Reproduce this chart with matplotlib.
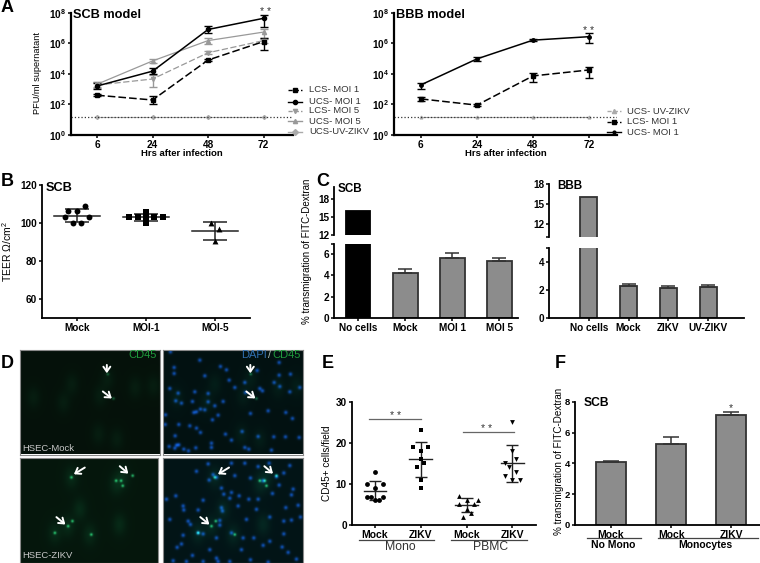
import matplotlib
matplotlib.use("Agg")
import matplotlib.pyplot as plt
import numpy as np

plt.rcParams['font.family'] = ['Liberation Sans', 'DejaVu Sans']
plt.rcParams['mathtext.fontset'] = 'custom'
plt.rcParams['mathtext.bf'] = 'Liberation Sans:bold'
plt.rcParams['mathtext.rm'] = 'Liberation Sans'

# panel A
hours = ['6', '24', '48', '72']
uv_level = [14, 14, 14, 14]
scb_lcs1 = [400, 195, 8e4, 1.3e6]
scb_lcs1_lo = [340, 110, 7e4, 3.6e5]
scb_lcs1_hi = [470, 350, 9e4, 2.1e6]
scb_ucs1 = [1600, 1.5e4, 8e6, 4.3e7]
scb_ucs1_lo = [1000, 1e4, 4.4e6, 1.2e7]
scb_ucs1_hi = [2600, 2.6e4, 1.3e7, 6.9e7]
scb_lcs5 = [1860, 4600, 2.4e5, 1.5e6]
scb_lcs5_lo = [1200, 1450, 2e5, 1e6]
scb_lcs5_hi = [2800, 8300, 3e5, 2e6]
scb_ucs5 = [2100, 7e4, 1.5e6, 5.4e6]
scb_ucs5_lo = [1400, 5e4, 8.9e5, 2.1e6]
scb_ucs5_hi = [3000, 1e5, 2.1e6, 9e6]
bbb_ucs1 = [1900, 9.5e4, 1.6e6, 2.7e6]
bbb_ucs1_lo = [1100, 7e4, 1.4e6, 1e6]
bbb_ucs1_hi = [2600, 1.2e5, 1.8e6, 4.4e6]
bbb_lcs1 = [230, 90, 7300, 1.8e4]
bbb_lcs1_lo = [170, 75, 2750, 5e3]
bbb_lcs1_hi = [300, 110, 1.2e4, 3e4]

# panel B
teer_groups = ['Mock', 'MOI-1', 'MOI-5']
teer_mock_x = [0.116, -0.125, 0, -0.18, 0.18, -0.06, 0.06]
teer_mock = [109, 106.2, 106.2, 103, 103, 100, 100]
teer_moi1_x = [0, -0.24, -0.12, 0, 0.12, 0.24, 0]
teer_moi1 = [105.8, 103, 103, 103, 103, 103, 100]
teer_moi5_x = [-0.06, 0.06, 0]
teer_moi5 = [100, 97, 90.3]
teer_mean = [103.7, 103, 95.8]
teer_lo = [100.4, 101, 91]
teer_hi = [107.2, 105, 100.5]

# panel C
scb_groups = ['No cells', 'Mock', 'MOI 1', 'MOI 5']
scb_trans = [16, 4.2, 5.6, 5.4]
scb_trans_err = [0, 0.36, 0.52, 0.28]
bbb_groups = ['No cells', 'Mock', 'ZIKV', 'UV-ZIKV']
bbb_trans = [16, 2.3, 2.1, 2.2]
bbb_trans_err = [0, 0.15, 0.15, 0.15]

mock_nuclei = [(22,8),(33,55),(33,73),(110,33),(172,52),(190,62),(125,80),(198,93),(282,64),(348,40),(382,75),(348,78),
               (410,115),(380,128),(350,112),(333,100),(298,125),(290,118),(245,100),(215,115),(247,130),(20,118),(45,132),
               (95,128),(135,133),(38,155),(55,162),(88,157),(135,158),(155,170),(180,157),(112,180),(125,182),(100,188),
               (92,190),(7,197),(165,198),(148,212),(262,193),(315,185),(368,190),(388,208),(6,226),(47,226),(80,230),
               (100,237),(112,250),(36,260),(237,247),(187,255),(205,273),(285,262),(332,263),(367,263),(408,265),(18,292),
               (40,288),(47,287),(35,297),(62,300),(98,296),(145,282),(145,295),(76,305),(245,295),(257,300),(325,303)]
zikv_nuclei = [(135,20),(205,18),(245,18),(285,28),(318,18),(380,25),(100,42),(150,52),(138,68),(160,60),(362,47),(340,58),
               (300,70),(262,62),(215,55),(175,92),(205,105),(182,110),(328,108),(390,95),(348,83),(10,125),(38,115),(120,128),
               (200,122),(228,115),(257,125),(285,125),(320,178),(60,145),(62,157),(105,157),(175,150),(178,160),(225,145),
               (280,155),(405,143),(368,150),(20,185),(75,190),(82,200),(170,188),(170,202),(250,185),(362,190),(385,187),
               (412,178),(60,232),(120,228),(160,240),(205,225),(240,240),(272,240),(320,250),(362,228),(55,258),(42,268),
               (140,275),(235,275),(357,267),(375,283),(88,292),(30,308),(70,310),(120,310),(160,300),(165,310),(200,310),
               (262,305),(315,312),(400,303),(300,262),(385,112),(105,225)]
mock_haze = [(155,105),(40,145),(130,160),(240,140),(345,115),(262,90),(235,255),(400,110),(290,270)]
zikv_haze = [(155,60),(310,60),(180,155),(300,200),(210,230),(105,225),(145,205),(290,80)]
mock_bright = [(263,75),(280,148)]
zikv_bright = [(155,60),(340,55),(145,205),(158,190),(105,225),(215,230),(290,70),(305,70),(310,85)]
mock_arrows = [((262,45),(262,70)), ((250,125),(277,146))]
zikv_arrows = [((198,30),(165,50)), ((304,26),(330,48)), ((112,178),(139,200))]

# panel E
cell_groups = ['Mock', 'ZIKV', 'Mock', 'ZIKV']
mono_mock_x = [0, -0.17, 0.17, 0, -0.17, -0.08, 0.17, 0, 0.08]
mono_mock = [13, 10, 10, 8.9, 6.9, 6.9, 6.9, 6, 6]
mono_zikv_x = [0, -0.16, 0.16, 0, 0, -0.08, 0.08, 0, 0]
mono_zikv = [23, 19, 19, 18, 16, 14, 15, 11, 9]
pbmc_mock_x = [-0.17, 0, 0.25, -0.17, 0.17, 0, 0.09, -0.08]
pbmc_mock = [7, 6, 6, 5, 5, 3.8, 3, 2]
pbmc_zikv_x = [0, 0, 0.09, -0.17, -0.08, 0.09, -0.17, 0, 0.17]
pbmc_zikv = [25, 18, 16, 15, 14, 13, 12, 11, 11]
cell_mean = [8.35, 16, 4.9, 15]
cell_lo = [6, 11.8, 3.1, 10.5]
cell_hi = [10.7, 20.3, 6.5, 19.5]

# panel F
mono_groups = ['Mock', 'Mock', 'ZIKV']
mono_trans = [4.1, 5.27, 7.13]
mono_trans_err = [0.08, 0.43, 0.22]

GREY = '#999999'
BAR = '#8c8c8c'
EDGE = '#333333'

fig = plt.figure(figsize=(7.6, 5.63), dpi=100)


def px_axes(x0, y0, x1, y1, spine=1.3):
    # box given in image pixels, y0 is the top edge
    ax = fig.add_axes([x0 / 760, 1 - y1 / 563, (x1 - x0) / 760, (y1 - y0) / 563])
    ax.patch.set_alpha(0)
    ax.spines['top'].set_visible(False)
    ax.spines['right'].set_visible(False)
    ax.spines['left'].set_linewidth(spine)
    ax.spines['bottom'].set_linewidth(spine)
    ax.tick_params(width=1.1, length=2.5, labelsize=7.2, pad=1)
    return ax


def bold_ticks(ax):
    for t in ax.get_xticklabels() + ax.get_yticklabels():
        t.set_fontweight('bold')


def draw_virus(ax, x, y, lo, hi, color, ls, marker, ms, lw=1.1):
    y = np.array(y)
    ax.errorbar(x, y, yerr=[y - np.array(lo), np.array(hi) - y], color=color, ls=ls, lw=lw,
                marker=marker, ms=ms, capsize=3, elinewidth=1.0, capthick=1.0)


# panel A left
ax = px_axes(71, 12.7, 293, 135, 1.6)
x = np.arange(4)
draw_virus(ax, x, scb_lcs5, scb_lcs5_lo, scb_lcs5_hi, GREY, (0, (5, 2)), 'v', 3, 0.9)
draw_virus(ax, x, scb_ucs5, scb_ucs5_lo, scb_ucs5_hi, GREY, '-', '^', 3, 0.9)
draw_virus(ax, x, scb_lcs1, scb_lcs1_lo, scb_lcs1_hi, 'black', (0, (5, 2)), 's', 3.5)
draw_virus(ax, x, scb_ucs1, scb_ucs1_lo, scb_ucs1_hi, 'black', '-', 'o', 3)
ax.plot(x, uv_level, color='#aaaaaa', lw=0.8, marker='D', ms=2)
ax.axhline(uv_level[0], color='#333333', ls=':', lw=0.9)
ax.set_yscale('log')
ax.set_ylim(1, 1e8)
ax.set_xlim(-0.47, 3.53)
ax.set_xticks(x, hours)
ax.set_yticks([1, 1e2, 1e4, 1e6, 1e8], [r'$\mathbf{10^{%d}}$' % p for p in (0, 2, 4, 6, 8)])
ax.minorticks_off()
bold_ticks(ax)

# panel A right
ax = px_axes(394, 12.7, 617, 135, 1.6)
draw_virus(ax, x, bbb_lcs1, bbb_lcs1_lo, bbb_lcs1_hi, 'black', (0, (5, 2)), 's', 3.5)
draw_virus(ax, x, bbb_ucs1, bbb_ucs1_lo, bbb_ucs1_hi, 'black', '-', 'o', 2.5)
ax.plot(x, uv_level, color='#aaaaaa', lw=0.8, marker='^', ms=2)
ax.axhline(uv_level[0], color='#333333', ls=':', lw=0.9)
ax.set_yscale('log')
ax.set_ylim(1, 1e8)
ax.set_xlim(-0.48, 3.5)
ax.set_xticks(x, hours)
ax.set_yticks([1, 1e2, 1e4, 1e6, 1e8], [r'$\mathbf{10^{%d}}$' % p for p in (0, 2, 4, 6, 8)])
ax.minorticks_off()
bold_ticks(ax)

# panel B
ax = px_axes(42, 185, 250, 318)
for i, (dx, vals, m) in enumerate([(teer_mock_x, teer_mock, 'o'), (teer_moi1_x, teer_moi1, 's'), (teer_moi5_x, teer_moi5, '^')]):
    ax.scatter(np.array(dx) + i, vals, color='black', marker=m, s=18, lw=0, zorder=3)
    ax.plot([i - 0.33, i + 0.33], [teer_mean[i]] * 2, color='#222222', lw=1.1)
    ax.errorbar(i, teer_mean[i], yerr=[[teer_mean[i] - teer_lo[i]], [teer_hi[i] - teer_mean[i]]],
                color='#222222', capsize=8.5, lw=1.1, capthick=1.1)
ax.set_xlim(-0.507, 2.507)
ax.set_ylim(50, 120)
ax.set_xticks(range(3), teer_groups)
ax.set_yticks([60, 80, 100, 120])
bold_ticks(ax)


def broken_bars(x0, x1, y_low, y_break_low, y_break_up, y_top, lim_low, lim_up, xlim, width, vals, errs,
                names, first_color, low_ticks, up_ticks, low_labels, up_labels):
    lo = px_axes(x0, y_break_low, x1, y_low)
    up = px_axes(x0, y_top, x1, y_break_up)
    colors = [first_color] + [BAR] * (len(vals) - 1)
    pos = np.arange(len(vals))
    for a in (lo, up):
        a.bar(pos, vals, width=width, color=colors, edgecolor=[EDGE if c != 'black' else 'black' for c in colors], lw=1.3)
        a.set_xlim(*xlim)
    lo.errorbar(pos[1:], vals[1:], yerr=[np.zeros(len(vals) - 1), errs[1:]], ls='none', color=EDGE, capsize=5, lw=1.1, capthick=1.1)
    lo.set_ylim(*lim_low)
    up.set_ylim(*lim_up)
    lo.set_xticks(pos, names)
    lo.set_yticks(low_ticks, low_labels)
    up.set_yticks(up_ticks, up_labels)
    up.set_xticks([])
    up.spines['bottom'].set_visible(False)
    bold_ticks(lo)
    bold_ticks(up)


# panel C
broken_bars(334, 518, 317.7, 243.7, 235.3, 186.7, (0, 7), (12, 20), (-0.51, 3.4), 0.53, scb_trans, scb_trans_err,
            scb_groups, 'black', [0, 2, 4, 6, 7], [12, 15, 18], ['0', '2', '4', '6', ''], ['12', '15', '18'])
broken_bars(549, 744, 317.7, 248, 236.7, 184.3, (0, 5), (10, 18), (-1.0, 3.9), 0.42, bbb_trans, bbb_trans_err,
            bbb_groups, BAR, [0, 2, 4, 5], [10, 12, 15, 18], ['0', '2', '4', ''], ['', '12', '15', '18'])


def micrograph(x0, y0, x1, y1, bg, nuclei, haze, bright, arrows, haze_amp, bright_amp):
    ax = fig.add_axes([x0 / 760, 1 - y1 / 563, (x1 - x0) / 760, (y1 - y0) / 563])
    gx, gy = np.meshgrid(np.arange(420), np.arange(315))
    img = np.ones((315, 420, 3)) * np.array(bg)

    def add(spots, sx, sy, color):
        for px, py in spots:
            blob = np.exp(-((gx - px) ** 2 / (2 * sx ** 2) + (gy - py) ** 2 / (2 * sy ** 2)))
            for c in range(3):
                img[:, :, c] += blob * color[c]

    add(haze, 14, 22, (0.01 * haze_amp, 0.09 * haze_amp, 0.05 * haze_amp))
    add(bright, 3, 3, (0.15 * bright_amp, 0.7 * bright_amp, 0.4 * bright_amp))
    add(nuclei, 4, 4, (0.05, 0.24, 0.62))
    ax.imshow(np.clip(img, 0, 1), extent=(0, 420, 315, 0), aspect='auto', interpolation='bilinear')
    for start, end in arrows:
        ax.annotate('', xy=end, xytext=start,
                    arrowprops=dict(arrowstyle='->,head_width=0.25,head_length=0.35', color='white', lw=1.4, shrinkA=0, shrinkB=0))
    ax.set_xticks([])
    ax.set_yticks([])
    for s in ax.spines.values():
        s.set_color('#8a8a8a')
        s.set_linewidth(0.8)
    return ax


# panel D
micrograph(19.5, 350, 159.5, 454.5, (0.02, 0.07, 0.04), [], mock_haze, mock_bright, mock_arrows, 0.5, 0.4)
micrograph(163, 350, 303, 454.5, (0.01, 0.07, 0.07), mock_nuclei, mock_haze, mock_bright, mock_arrows, 0.5, 0.5)
micrograph(19.5, 457.5, 158, 563, (0.02, 0.09, 0.05), [], zikv_haze, zikv_bright, zikv_arrows, 0.8, 0.9)
micrograph(163, 457.5, 303, 563, (0.01, 0.08, 0.09), zikv_nuclei, zikv_haze, zikv_bright, zikv_arrows, 0.8, 0.9)

# panel E
ax = px_axes(351.7, 401.7, 535.7, 525)
ax.tick_params(axis='x', labelsize=7.5)
sets = [(mono_mock_x, mono_mock, 'o'), (mono_zikv_x, mono_zikv, 's'), (pbmc_mock_x, pbmc_mock, '^'), (pbmc_zikv_x, pbmc_zikv, 'v')]
for i, (dx, vals, m) in enumerate(sets):
    ax.scatter(np.array(dx) + i, vals, color='black', marker=m, s=12, lw=0, zorder=3)
    ax.plot([i - 0.25, i + 0.25], [cell_mean[i]] * 2, color='#222222', lw=1.0)
    ax.errorbar(i, cell_mean[i], yerr=[[cell_mean[i] - cell_lo[i]], [cell_hi[i] - cell_mean[i]]],
                color='#222222', capsize=4.5, lw=1.0, capthick=1.0)
ax.set_xlim(-0.51, 3.51)
ax.set_ylim(0, 30)
ax.set_xticks(range(4), cell_groups)
ax.set_yticks([0, 10, 20, 30])
bold_ticks(ax)

# panel F
ax = px_axes(575, 401.7, 760, 525)
ax.tick_params(axis='x', labelsize=7.5)
ax.tick_params(axis='y', labelsize=6.8)
pos = np.arange(3)
ax.bar(pos, mono_trans, width=0.51, color=BAR, edgecolor=EDGE, lw=1.3)
ax.errorbar(pos, mono_trans, yerr=[[0, 0, 0], mono_trans_err], ls='none', color=EDGE, capsize=6, lw=1.1, capthick=1.1)
ax.set_xlim(-0.6, 2.48)
ax.set_ylim(0, 8)
ax.set_xticks(pos, mono_groups)
ax.set_yticks([0, 2, 4, 6, 8])
bold_ticks(ax)

# everything placed in image pixels goes on this layer
ov = fig.add_axes([0, 0, 1, 1])
ov.set_xlim(0, 760)
ov.set_ylim(563, 0)
ov.set_axis_off()


def put(x, y, s, size=7, weight='normal', ha='center', color='black', rotation=0):
    ov.text(x, y, s, fontsize=size, fontweight=weight, ha=ha, va='center', color=color, rotation=rotation)


for lx, ly, s in [(7.5, 7, 'A'), (7, 181, 'B'), (323, 181.5, 'C'), (7, 363, 'D'), (328, 363, 'E'), (560, 363, 'F')]:
    put(lx, ly, s, size=13, weight='bold')

put(72.7, 15, 'SCB model', 9.2, 'bold', 'left')
put(396, 14.7, 'BBB model', 9.2, 'bold', 'left')
put(45.7, 187.7, 'SCB', 9.2, 'bold', 'left')
put(337.3, 189, 'SCB', 8.4, 'bold', 'left')
put(557.3, 185.7, 'BBB', 8.4, 'bold', 'left')
put(584, 403, 'SCB', 8.7, 'bold', 'left')

put(181.7, 154, 'Hrs after infection', 6.8, 'bold')
put(505.7, 153.3, 'Hrs after infection', 6.8, 'bold')
put(37.7, 73, 'PFU/ml supernatant', 6.6, rotation=90)
put(7.3, 251.7, 'TEER Ω/cm$^{2}$', 7.5, rotation=90)
put(306.7, 251, '% transmigration of FITC-Dextran', 7, rotation=90)
put(559, 461.7, '% transmigration of FITC-Dextran', 7.1, rotation=90)
put(326.7, 463, 'CD45+ cells/field', 7.2, rotation=90)

put(265.3, 12, '* *', 7.5, color='#333333')
put(589, 31, '* *', 7.5, color='#333333')
put(730.7, 408, '*', 7.5, color='#333333')
put(395.7, 416, '* *', 7.5, color='#333333')
put(486.7, 429, '* *', 7.5, color='#333333')
ov.plot([369, 420.7], [418.7, 418.7], color='#666666', lw=0.9)
ov.plot([462.7, 514], [431.7, 431.7], color='#666666', lw=0.9)

# group brackets under E and F
ov.plot([359, 434], [539.7, 539.7], color='#444444', lw=0.9)
ov.plot([451, 526.7], [539.7, 539.7], color='#444444', lw=0.9)
put(400, 547, 'Mono', 8.8, color='#333333')
put(491, 547, 'PBMC', 8.7, color='#333333')
ov.plot([587, 640.7], [538, 538], color='#444444', lw=0.9)
ov.plot([658, 758], [538, 538], color='#444444', lw=0.9)
put(613, 544.5, 'No Mono', 7.5, 'bold')
put(705, 544.5, 'Monocytes', 7.5, 'bold')

# legends, drawn by hand as in the figure
left_legend = [(90, 'LCS- MOI 1', 'black', (0, (3, 1.5)), 's'), (102, 'UCS- MOI 1', 'black', '-', 'o'),
               (110.7, 'LCS- MOI 5', GREY, (0, (3, 1.5)), 'v'), (121, 'UCS- MOI 5', GREY, '-', '^'),
               (132, 'UCS-UV-ZIKV', '#aaaaaa', '-', 'D')]
for ly, s, c, ls, m in left_legend:
    ov.plot([288, 302], [ly, ly], color=c, ls=ls, lw=1.0)
    ov.plot([295], [ly], color=c, marker=m, ms=3)
    put(309, ly, s, 6.8, ha='left', color='#333333')
right_legend = [(111, 'UCS- UV-ZIKV', '#aaaaaa', (0, (3, 1.5)), '^'), (121.7, 'LCS- MOI 1', 'black', (0, (3, 1.5)), 's'),
                (132.3, 'UCS- MOI 1', 'black', '-', 'o')]
for ly, s, c, ls, m in right_legend:
    ov.plot([606.7, 620.7], [ly, ly], color=c, ls=ls, lw=1.0)
    ov.plot([613.7], [ly], color=c, marker=m, ms=3 if m != 'o' else 2)
    put(627, ly, s, 6.8, ha='left', color='#333333')

# micrograph captions
put(156.5, 354.7, 'CD45', 8, ha='right', color='#1f9a3c')
put(241, 354.7, 'DAPI', 8, ha='left', color='#2f6fb0')
put(267.5, 354.7, '/', 8, ha='left', color='#b0c0b8')
put(300.5, 354.7, 'CD45', 8, ha='right', color='#1f9a3c')
put(22, 448.5, 'HSEC-Mock', 6.8, ha='left', color='#c8c8c8')
put(22, 556, 'HSEC-ZIKV', 6.8, ha='left', color='#c8c8c8')

fig.savefig('out.png', dpi=100)
